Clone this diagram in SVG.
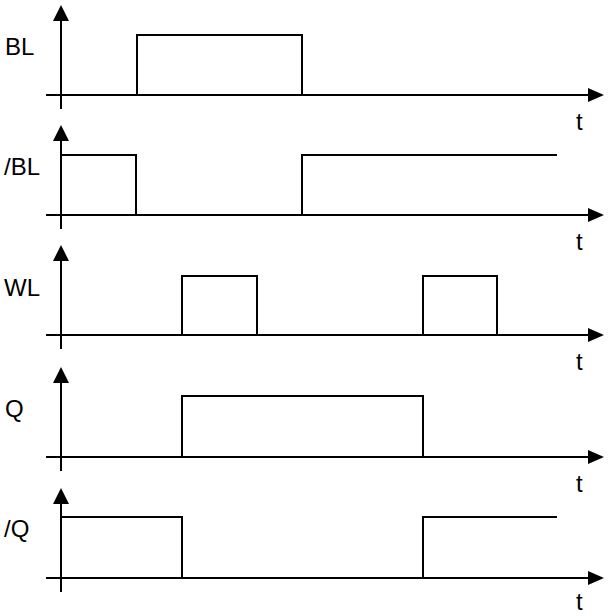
<svg xmlns="http://www.w3.org/2000/svg" width="616" height="616" viewBox="0 0 616 616">
<style>
.ax{stroke:#000;stroke-width:2;fill:none}
.sig{stroke:#000;stroke-width:2;fill:none}
.lbl{font-family:"Liberation Sans",Arial,sans-serif;font-size:24px;fill:#000}
.t{font-family:"Liberation Sans",Arial,sans-serif;font-size:24px;fill:#000}
</style>
<g id="connectors">
<g id="axes1" transform="translate(0,95)">
<path class="ax" d="M61,14 V-78 M46,0 H592"/>
<polygon points="61,-90 53,-74 69,-74"/>
<polygon points="604,0 588,-7 588,7"/>
</g>
<g id="axes2" transform="translate(0,215)">
<path class="ax" d="M61,14 V-78 M46,0 H592"/>
<polygon points="61,-90 53,-74 69,-74"/>
<polygon points="604,0 588,-7 588,7"/>
</g>
<g id="axes3" transform="translate(0,335)">
<path class="ax" d="M61,14 V-78 M46,0 H592"/>
<polygon points="61,-90 53,-74 69,-74"/>
<polygon points="604,0 588,-7 588,7"/>
</g>
<g id="axes4" transform="translate(0,457)">
<path class="ax" d="M61,14 V-78 M46,0 H592"/>
<polygon points="61,-90 53,-74 69,-74"/>
<polygon points="604,0 588,-7 588,7"/>
</g>
<g id="axes5" transform="translate(0,578)">
<path class="ax" d="M61,14 V-78 M46,0 H592"/>
<polygon points="61,-90 53,-74 69,-74"/>
<polygon points="604,0 588,-7 588,7"/>
</g>
</g>
<g id="BL">
<text class="lbl" x="5" y="55">BL</text>
<path class="sig" d="M137,95 V35 H302 V95"/>
<text class="t" x="576" y="130">t</text>
</g>
<g id="nBL">
<text class="lbl" x="4" y="175">/BL</text>
<path class="sig" d="M62,155 H136 V215 M302,215 V155 H557"/>
<text class="t" x="576" y="250">t</text>
</g>
<g id="WL">
<text class="lbl" x="4" y="296">WL</text>
<path class="sig" d="M182,335 V276 H257 V335 M423,335 V276 H497 V335"/>
<text class="t" x="576" y="370">t</text>
</g>
<g id="Q">
<text class="lbl" x="5" y="417">Q</text>
<path class="sig" d="M182,457 V396 H423 V457"/>
<text class="t" x="576" y="492">t</text>
</g>
<g id="nQ">
<text class="lbl" x="4" y="537">/Q</text>
<path class="sig" d="M62,517 H182 V578 M423,578 V517 H557"/>
<text class="t" x="576" y="610">t</text>
</g>
</svg>
